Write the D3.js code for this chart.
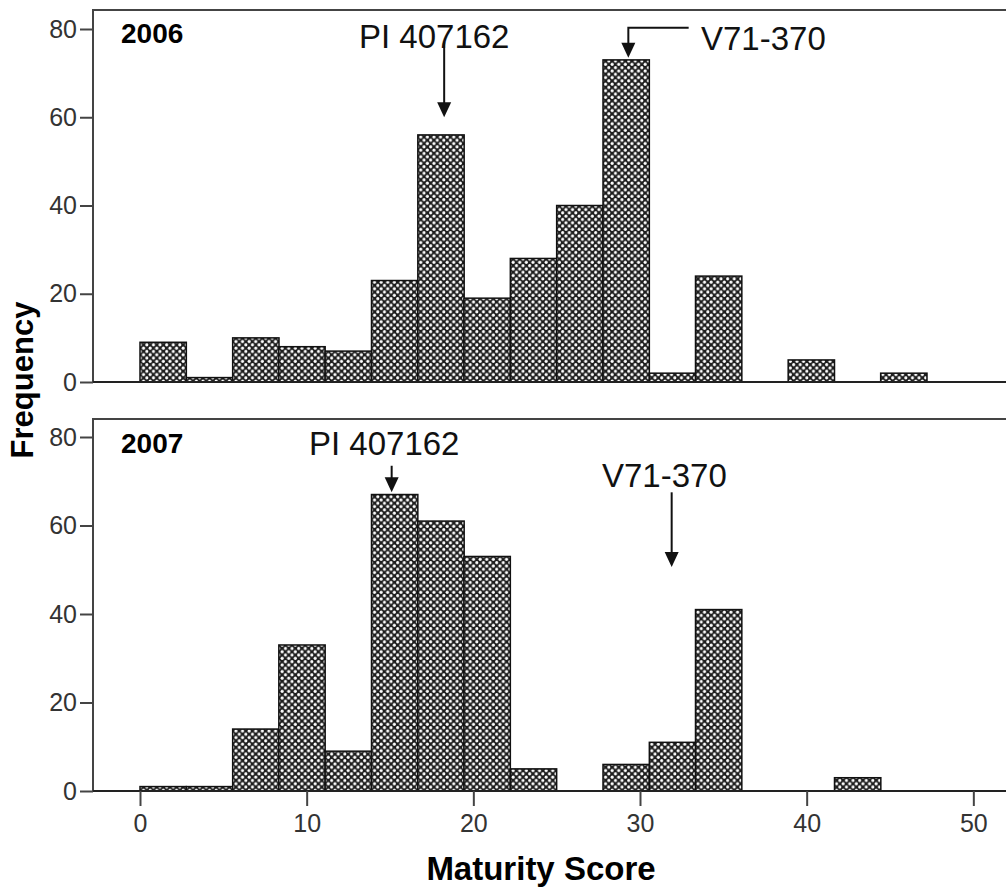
<!DOCTYPE html>
<html>
<head>
<meta charset="utf-8">
<script src="https://cdn.jsdelivr.net/npm/d3@7"></script>
<style>
  body { margin: 0; background: #fff; }
  svg { display: block; font-family: "Liberation Sans", Arial, sans-serif; }
  .tick text { fill: #333; font-size: 25px; }
  .tick line { stroke: #444; stroke-width: 2; }
</style>
</head>
<body>
<div id="chart"></div>
<script>
// histogram bins (maturity score), bin width 50/18
const binStarts = [0, 2.78, 5.56, 8.33, 11.11, 13.89, 16.67, 19.44, 22.22, 25, 27.78, 30.56, 33.33, 36.11, 38.89, 41.67, 44.44];
const binWidth = 2.78;
const counts2006 = [9, 1, 10, 8, 7, 23, 56, 19, 28, 40, 73, 2, 24, 0, 5, 0, 2];
const counts2007 = [1, 1, 14, 33, 9, 67, 61, 53, 5, 0, 6, 11, 41, 0, 0, 3, 0];
const xTicks = [0, 10, 20, 30, 40, 50];
const yTicks = [0, 20, 40, 60, 80];

// annotation arrows: x = score, tip = frequency where the arrow ends
const notes2006 = [
  {label: "PI 407162", x: 18.25, tip: 60, top: 77, tx: 359, ty: 48},
  {label: "V71-370", x: 29.3, tip: 73.5, top: 80.3, tx: 701, ty: 50, elbow: 32.8}
];
const notes2007 = [
  {label: "PI 407162", x: 15.1, tip: 67.5, top: 73.5, tx: 309, ty: 455},
  {label: "V71-370", x: 31.9, tip: 50.6, top: 67.5, tx: 602, ty: 487}
];

const width = 1006, height = 888;
const svg = d3.select("#chart").append("svg")
  .attr("width", width).attr("height", height);

// checkered fill like the SPSS pattern
const defs = svg.append("defs");
const pat = defs.append("pattern")
  .attr("id", "check").attr("patternUnits", "userSpaceOnUse")
  .attr("width", 6.6).attr("height", 6.6);
pat.append("rect").attr("width", 6.6).attr("height", 6.6).attr("fill", "#1e1e1e");
pat.append("circle").attr("cx", 1.65).attr("cy", 1.65).attr("r", 1.55).attr("fill", "#fff");
pat.append("circle").attr("cx", 4.95).attr("cy", 4.95).attr("r", 1.55).attr("fill", "#fff");

const x = d3.scaleLinear().domain([-2.82, 52.2]).range([93, 1010]);

function panel(counts, notes, yearLabel, y0, y80, frameTop, showX) {
  const y = d3.scaleLinear().domain([0, 80]).range([y0, y80]);
  const g = svg.append("g");

  // frame: top and left
  g.append("path")
    .attr("d", `M${x.range()[1]},${frameTop}H${x.range()[0]}V${y0}`)
    .attr("fill", "none").attr("stroke", "#444").attr("stroke-width", 2);

  // bars
  g.selectAll("rect.bar")
    .data(binStarts.map((b, i) => ({b, c: counts[i]})).filter(d => d.c > 0))
    .enter().append("rect")
    .attr("class", "bar")
    .attr("x", d => x(d.b))
    .attr("width", d => x(d.b + binWidth) - x(d.b))
    .attr("y", d => y(d.c))
    .attr("height", d => y(0) - y(d.c))
    .attr("fill", "url(#check)")
    .attr("stroke", "#111").attr("stroke-width", 1.5);

  // baseline
  g.append("line")
    .attr("x1", x.range()[0]).attr("x2", x.range()[1])
    .attr("y1", y0).attr("y2", y0)
    .attr("stroke", "#222").attr("stroke-width", 2);

  // y axis
  const ya = g.append("g")
    .attr("transform", `translate(${x.range()[0]},0)`)
    .call(d3.axisLeft(y).tickValues(yTicks).tickSize(13).tickPadding(3));
  ya.select(".domain").remove();

  if (showX) {
    const xa = g.append("g")
      .attr("transform", `translate(0,${y0})`)
      .call(d3.axisBottom(x).tickValues(xTicks).tickSize(15).tickPadding(8));
    xa.select(".domain").remove();
  }

  g.append("text")
    .attr("x", 121).attr("y", yearLabel.y)
    .attr("font-weight", "bold").attr("font-size", 28)
    .text(yearLabel.text);

  // annotations
  notes.forEach(n => {
    g.append("text")
      .attr("x", n.tx).attr("y", n.ty)
      .attr("font-size", 33).attr("fill", "#111")
      .text(n.label);
    const ax = x(n.x), tipY = y(n.tip), topY = y(n.top);
    let d = `M${ax},${topY}V${tipY - 12}`;
    if (n.elbow !== undefined) d = `M${x(n.elbow) + 2},${topY}H${ax}V${tipY - 12}`;
    g.append("path").attr("d", d)
      .attr("fill", "none").attr("stroke", "#111").attr("stroke-width", 2);
    g.append("path")
      .attr("d", `M${ax - 7},${tipY - 15}L${ax + 7},${tipY - 15}L${ax},${tipY}Z`)
      .attr("fill", "#111");
  });
}

panel(counts2006, notes2006, {text: "2006", y: 43}, 382, 29, 10, false);
panel(counts2007, notes2007, {text: "2007", y: 453}, 791, 437, 419, true);

// axis titles
svg.append("text")
  .attr("transform", "translate(33,380) rotate(-90)")
  .attr("text-anchor", "middle")
  .attr("font-weight", "bold").attr("font-size", 31)
  .text("Frequency");

svg.append("text")
  .attr("x", 541).attr("y", 880)
  .attr("text-anchor", "middle")
  .attr("font-weight", "bold").attr("font-size", 33)
  .text("Maturity Score");
</script>
</body>
</html>
